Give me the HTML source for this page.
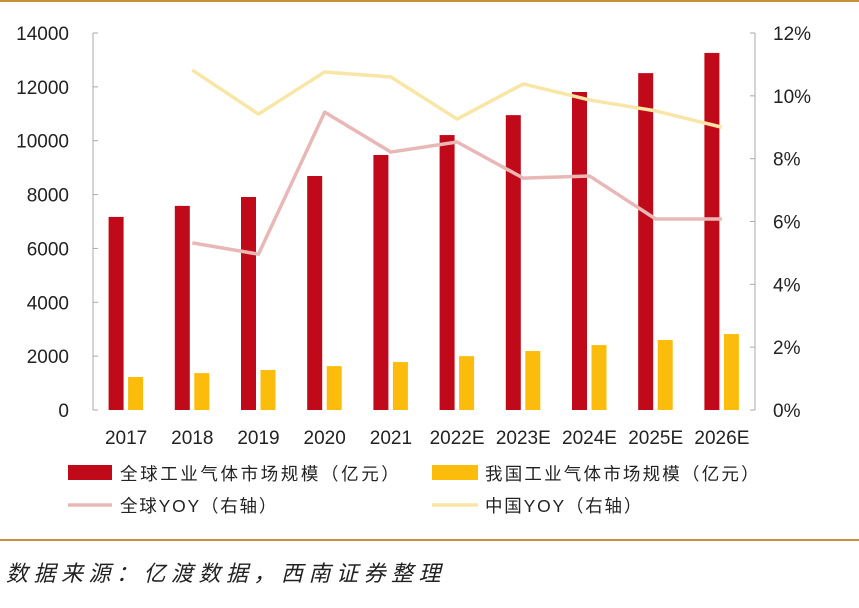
<!DOCTYPE html>
<html><head><meta charset="utf-8"><style>
body{margin:0;background:#fff;}
svg text{font-family:"Liberation Sans","Noto Sans CJK SC",sans-serif;fill:#222;}
</style></head><body>
<svg width="859" height="603" viewBox="0 0 859 603" id="chart">
<rect x="0" y="0" width="859" height="2" fill="#c8903a"/>
<rect x="0" y="539" width="859" height="2" fill="#c8903a"/>
<text x="6" y="581" font-size="22" font-style="italic" letter-spacing="5.5">数据来源：亿渡数据，西南证券整理</text>
<g id="g"></g>
</svg>
<script>
const categories=["2017","2018","2019","2020","2021","2022E","2023E","2024E","2025E","2026E"];
const globalSize=[7170,7580,7910,8690,9470,10210,10950,11810,12510,13260];
const chinaSize=[1225,1370,1485,1630,1780,2000,2190,2410,2600,2820];
const globalYoy=[null,5.32,4.96,9.48,8.21,8.53,7.38,7.45,6.08,6.08];
const chinaYoy=[null,10.82,9.42,10.76,10.6,9.26,10.38,9.87,9.52,9.0];
const leftTicks=[0,2000,4000,6000,8000,10000,12000,14000];
const rightTicks=[0,2,4,6,8,10,12];
const NS="http://www.w3.org/2000/svg";
const g=document.getElementById('g');
const X0=93,X1=755,Y0=410,Y1=33;
const step=(X1-X0)/categories.length;
const xc=i=>X0+step*(i+0.5);
const yl=v=>Y0-(v/14000)*(Y0-Y1);
const yr=v=>Y0-(v/12)*(Y0-Y1);
function el(t,a){const e=document.createElementNS(NS,t);for(const k in a)e.setAttribute(k,a[k]);g.appendChild(e);return e;}
let e;
e=el('line',{x1:X0,y1:Y1,x2:X0,y2:Y0,stroke:'#aaa','stroke-width':1});


e=el('line',{x1:X1,y1:Y1,x2:X1,y2:Y0,stroke:'#aaa','stroke-width':1});


leftTicks.forEach(v=>{
 el('line',{x1:X0,y1:yl(v),x2:X0+5,y2:yl(v),stroke:'#aaa'});
 e=el('text',{x:69,y:yl(v)+7,'font-size':19,'text-anchor':'end'});e.textContent=v;
 
 
});
rightTicks.forEach(v=>{
 el('line',{x1:X1-5,y1:yr(v),x2:X1,y2:yr(v),stroke:'#aaa'});
 e=el('text',{x:773,y:yr(v)+7,'font-size':19});e.textContent=v+'%';
 
 
});
categories.forEach((c,i)=>{
 e=el('text',{x:xc(i),y:444,'font-size':19,'text-anchor':'middle'});e.textContent=c;
 
 
 e=el('rect',{x:xc(i)-17.5,y:yl(globalSize[i]),width:15,height:Y0-yl(globalSize[i]),fill:'#c00a1a'});
 
 
 e=el('rect',{x:xc(i)+2,y:yl(chinaSize[i]),width:15,height:Y0-yl(chinaSize[i]),fill:'#fcbc0c'});
 
 
});
function line(arr,color,name){
 const pts=arr.map((v,i)=>v==null?null:xc(i)+','+yr(v)).filter(Boolean).join(' ');
 const p=el('polyline',{points:pts,fill:'none',stroke:color,'stroke-width':3.5,'stroke-linejoin':'round'});
 
 
}
line(globalYoy,'#e8b8b6','line-global-yoy');
line(chinaYoy,'#f8e6a6','line-china-yoy');
e=el('rect',{x:68,y:465,width:44,height:15,fill:'#c00a1a'});


e=el('text',{x:120,y:480,'font-size':17.5,'letter-spacing':2.6});e.textContent='全球工业气体市场规模（亿元）';


e=el('rect',{x:432,y:465,width:46,height:15,fill:'#fcbc0c'});


e=el('text',{x:485,y:480,'font-size':17.5,'letter-spacing':2.2});e.textContent='我国工业气体市场规模（亿元）';


e=el('line',{x1:68,y1:505,x2:112,y2:505,stroke:'#e8b8b6','stroke-width':3.5});


e=el('text',{x:120,y:512,'font-size':17.5,'letter-spacing':1.8});e.textContent='全球YOY（右轴）';


e=el('line',{x1:432,y1:505,x2:478,y2:505,stroke:'#f8e6a6','stroke-width':3.5});


e=el('text',{x:485,y:512,'font-size':17.5,'letter-spacing':1.8});e.textContent='中国YOY（右轴）';


</script>
</body></html>
